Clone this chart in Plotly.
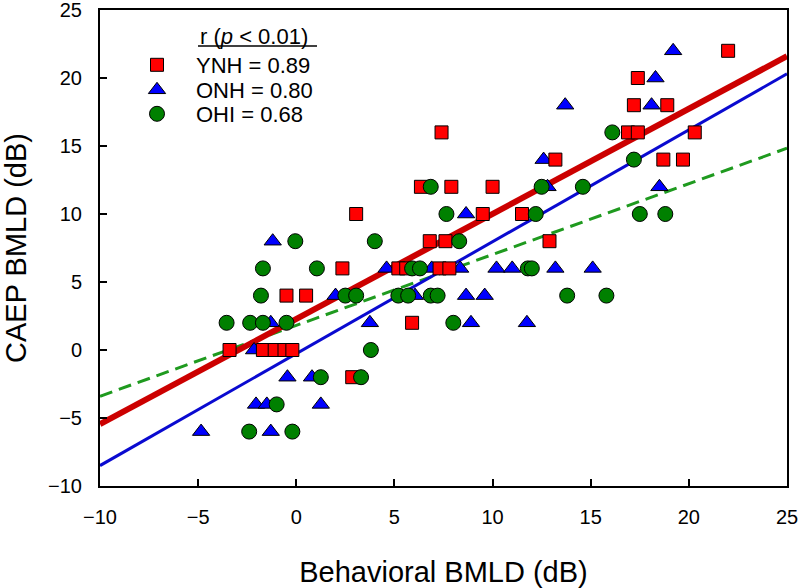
import plotly.graph_objects as go

# ---- data ----
ynh_x = [22, 17.4, 17.2, 18.9, 7.4, 16.9, 17.4, 20.3, 13.2, 18.7, 19.7, 6.35, 7.9, 10.0,
         3.05, 9.5, 11.5, 6.8, 7.6, 12.9, 2.35, 5.2, 5.6, 7.3, 7.8, -0.5, 0.5, 5.9,
         -3.4, -1.7, -1.1, -0.6, -0.2, 2.85]
ynh_y = [22, 20, 18, 18, 16, 16, 16, 16, 14, 14, 14, 12, 12, 12,
         10, 10, 10, 8, 8, 8, 6, 6, 6, 6, 6, 4, 4, 2,
         0, 0, 0, 0, 0, -2]

onh_x = [19.2, 18.3, 13.7, 18.1, 12.6, 12.8, 18.5, 8.65, -1.2, 4.6, 6.9, 8.35, 10.2, 11.0,
         13.2, 15.1, 2.0, 6.05, 8.65, 9.6, -1.3, 3.75, 8.9, 11.75, -2.15, -0.45, 0.8,
         -2.05, -1.5, 1.25, -4.85, -1.3]
onh_y = [22, 20, 18, 18, 14, 12, 12, 10, 8, 6, 6, 6, 6, 6,
         6, 6, 4, 4, 4, 4, 2, 2, 2, 2, 0, -2, -2,
         -4, -4, -4, -6, -6]

ohi_x = [16.1, 17.2, 6.85, 12.5, 14.6, 7.65, 12.2, 17.5, 18.8, -0.05, 4.0, 8.3, -1.7, 1.05,
         5.9, 6.3, 11.8, 12.0, -1.8, 2.5, 3.05, 5.2, 5.7, 6.85, 7.2, 13.8, 15.8,
         -3.55, -2.35, -1.7, -0.5, 8.0, 3.8, 1.25, 3.3, -1.0, -2.4, -0.2]
ohi_y = [16, 14, 12, 12, 12, 10, 10, 10, 10, 8, 8, 8, 6, 6,
         6, 6, 6, 6, 4, 4, 4, 4, 4, 4, 4, 4, 4,
         2, 2, 2, 2, 2, 0, -2, -2, -4, -6, -6]

# regression fits (slope, intercept)
fit_x = [-10, 25]
ynh_fit = (0.773, 2.28)
onh_fit = (0.823, -0.27)
ohi_fit = (0.521, 1.81)

legend_names = ["YNH = 0.89", "ONH = 0.80", "OHI = 0.68"]
x_ticks = [-10, -5, 0, 5, 10, 15, 20, 25]
y_ticks = [-10, -5, 0, 5, 10, 15, 20, 25]

FONT = "Liberation Sans, Arial, sans-serif"

W, H = 800, 588
# plot-area edges in pixels
PL, PR, PT, PB = 100, 787, 10, 486

def px(xs):
    return (xs - PL) / (PR - PL)

def py(ys):
    return 1 - (ys - PT) / (PB - PT)

fig = go.Figure()

def line_y(fit):
    return [fit[0] * x + fit[1] for x in fit_x]

fig.add_trace(go.Scatter(x=fit_x, y=line_y(ohi_fit), mode="lines", showlegend=False,
                         line=dict(color="#1f9a1f", width=3, dash="13px,7px"), hoverinfo="skip"))
fig.add_trace(go.Scatter(x=fit_x, y=line_y(onh_fit), mode="lines", showlegend=False,
                         line=dict(color="#0a0ad0", width=3), hoverinfo="skip"))
fig.add_trace(go.Scatter(x=fit_x, y=line_y(ynh_fit), mode="lines", showlegend=False,
                         line=dict(color="#cc0000", width=6), hoverinfo="skip"))

fig.add_trace(go.Scatter(x=onh_x, y=onh_y, mode="markers", name=legend_names[1], legend="legend2",
                         marker=dict(symbol="triangle-up", size=15, color="#0000ff",
                                     line=dict(color="black", width=1))))
fig.add_trace(go.Scatter(x=ynh_x, y=ynh_y, mode="markers", name=legend_names[0], legend="legend",
                         marker=dict(symbol="square", size=13, color="#ff0000",
                                     line=dict(color="black", width=1))))
fig.add_trace(go.Scatter(x=ohi_x, y=ohi_y, mode="markers", name=legend_names[2], legend="legend3",
                         marker=dict(symbol="circle", size=15, color="#008000",
                                     line=dict(color="black", width=1))))

axis_common = dict(
    showgrid=False, zeroline=False, showline=True, linecolor="black", linewidth=2,
    mirror=True, ticks="inside", ticklen=7, tickwidth=2, tickcolor="black",
    tickfont=dict(family=FONT, size=20, color="black"), automargin=False,
    ticklabeloverflow="allow",
)

def leg(yc):
    return dict(x=px(118), y=py(yc), xanchor="left", yanchor="middle",
                bgcolor="rgba(0,0,0,0)", font=dict(family=FONT, size=22),
                itemwidth=68)

fig.update_layout(
    width=W, height=H,
    margin=dict(l=PL, r=W - PR, t=PT, b=H - PB),
    paper_bgcolor="white", plot_bgcolor="white",
    font=dict(family=FONT, color="black"),
    xaxis=dict(range=[-10, 25], tickvals=x_ticks, ticklabelstandoff=12,
               title=dict(text="Behavioral BMLD (dB)", font=dict(family=FONT, size=29), standoff=35),
               **axis_common),
    yaxis=dict(range=[-10, 25], tickvals=y_ticks, ticklabelstandoff=12,
               title=dict(text="CAEP BMLD (dB)", font=dict(family=FONT, size=29), standoff=14),
               **axis_common),
    legend=leg(65), legend2=leg(90), legend3=leg(114),
    annotations=[dict(text="r (<i>p</i> < 0.01)", xref="paper", yref="paper",
                      x=px(254), y=py(36), xanchor="center", yanchor="middle",
                      showarrow=False, font=dict(family=FONT, size=22))],
    shapes=[dict(type="line", xref="paper", yref="paper",
                 x0=px(198), x1=px(317), y0=py(46), y1=py(46),
                 line=dict(color="black", width=1.5))],
)

fig.write_html("out.html", config={"displayModeBar": False},
               post_script="document.body.style.margin='0px';")
